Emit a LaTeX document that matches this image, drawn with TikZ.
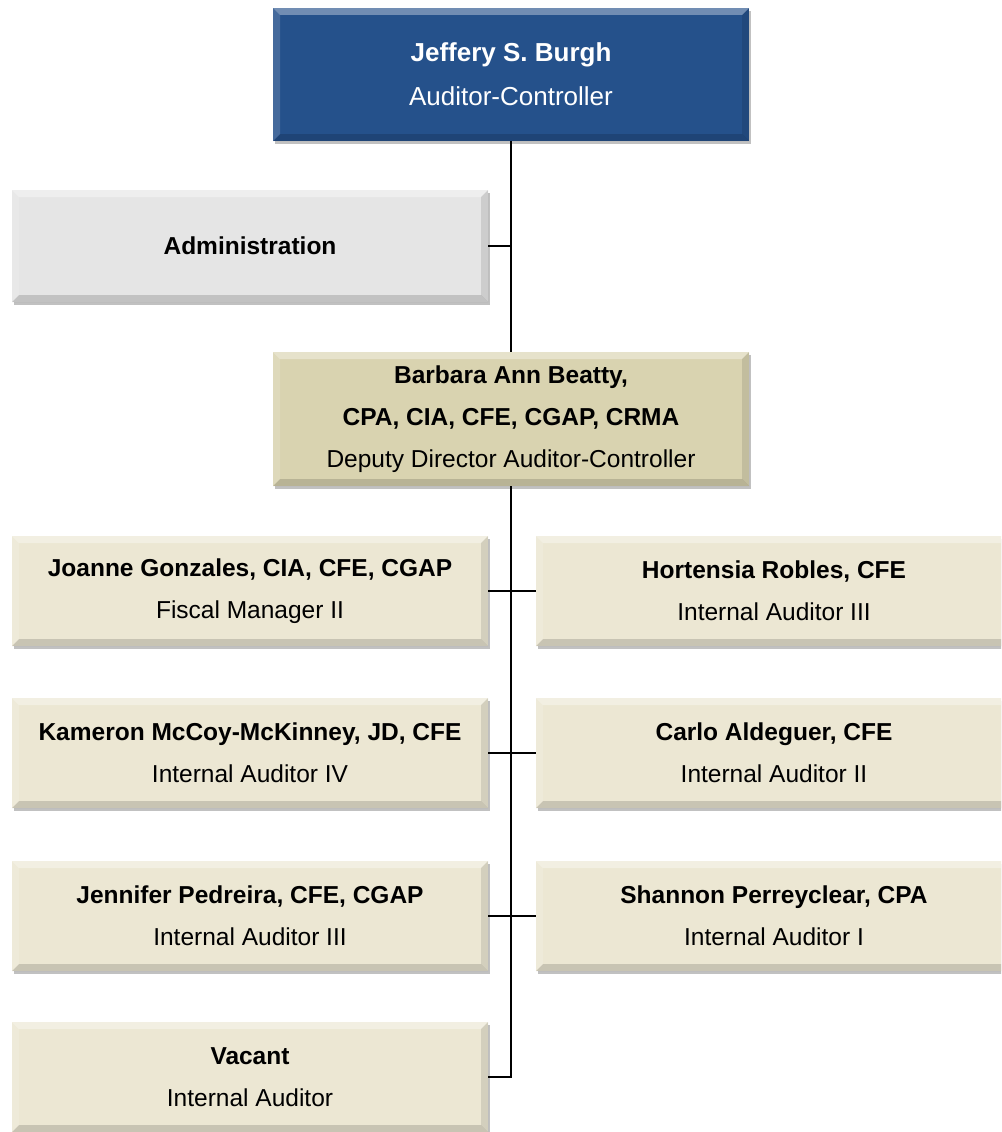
\documentclass[tikz,border=0pt]{standalone}
\usepackage{fontspec}
\setmainfont{Liberation Sans}
\usetikzlibrary{shadows}
\definecolor{topblue}{HTML}{25518B}
\definecolor{admgray}{HTML}{E5E5E5}
\definecolor{deptan}{HTML}{D9D3B0}
\definecolor{cream}{HTML}{ECE7D3}
\tikzset{
  orgbox/.style={rectangle, minimum width=476pt, inner sep=0pt, align=center,
    drop shadow={shadow xshift=1.5pt, shadow yshift=-3pt, opacity=0.35, fill=black!70},
    font=\fontsize{24.5}{42}\selectfont,
    path picture={
      \fill[white,opacity=0.35] (path picture bounding box.north west) -- (path picture bounding box.north east)
        -- ([xshift=-7pt,yshift=-7pt]path picture bounding box.north east) -- ([xshift=7pt,yshift=-7pt]path picture bounding box.north west) -- cycle;
      \fill[black,opacity=0.15] (path picture bounding box.south west) -- (path picture bounding box.south east)
        -- ([xshift=-7pt,yshift=7pt]path picture bounding box.south east) -- ([xshift=7pt,yshift=7pt]path picture bounding box.south west) -- cycle;
      \fill[white,opacity=0.15] (path picture bounding box.south west) -- (path picture bounding box.north west)
        -- ([xshift=7pt,yshift=-7pt]path picture bounding box.north west) -- ([xshift=7pt,yshift=7pt]path picture bounding box.south west) -- cycle;
      \fill[black,opacity=0.1] (path picture bounding box.south east) -- (path picture bounding box.north east)
        -- ([xshift=-7pt,yshift=-7pt]path picture bounding box.north east) -- ([xshift=-7pt,yshift=7pt]path picture bounding box.south east) -- cycle;
    }},
  staffbox/.style={orgbox, fill=cream, minimum height=110pt},
  conn/.style={draw=black, line width=1.5pt}
}
\begin{document}
\begin{tikzpicture}[x=1pt,y=-1pt]
\useasboundingbox (0,0) rectangle (1001,1132);
\clip (0,0) rectangle (1001,1132);
\node[orgbox, fill=topblue, minimum height=133pt, text=white, font=\fontsize{26}{44}\selectfont] (top) at (511,74.5)
  {\textbf{Jeffery S. Burgh}\\Auditor-Controller};
\node[orgbox, fill=admgray, minimum height=112pt] (adm) at (250,246) {\textbf{Administration}};
\node[orgbox, fill=deptan, minimum height=134pt] (dep) at (511,419)
  {\textbf{Barbara Ann Beatty,}\\\textbf{CPA, CIA, CFE, CGAP, CRMA}\\Deputy Director Auditor-Controller};
\node[staffbox] (jo) at (250,591) {\textbf{Joanne Gonzales, CIA, CFE, CGAP}\\Fiscal Manager II};
\node[staffbox] (ho) at (774,591) {\textbf{Hortensia Robles, CFE}\\Internal Auditor III};
\node[staffbox] (ka) at (250,753) {\textbf{Kameron McCoy-McKinney, JD, CFE}\\Internal Auditor IV};
\node[staffbox] (ca) at (774,753) {\textbf{Carlo Aldeguer, CFE}\\Internal Auditor II};
\node[staffbox] (je) at (250,916) {\textbf{Jennifer Pedreira, CFE, CGAP}\\Internal Auditor III};
\node[staffbox] (sh) at (774,916) {\textbf{Shannon Perreyclear, CPA}\\Internal Auditor I};
\node[staffbox] (va) at (250,1077) {\textbf{Vacant}\\Internal Auditor};
\draw[conn] (top.south) -- (dep.north);
\draw[conn] (adm.east) -- (adm.east -| top.south);
\draw[conn] (dep.south) |- (va.east);
\draw[conn] (jo.east) -- (ho.west);
\draw[conn] (ka.east) -- (ca.west);
\draw[conn] (je.east) -- (sh.west);
\end{tikzpicture}
\end{document}
